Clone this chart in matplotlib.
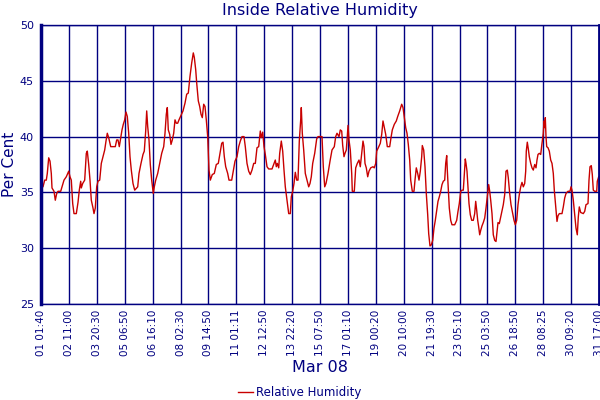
import numpy as np
import matplotlib
matplotlib.use('Agg')
import matplotlib.pyplot as plt

# readings: sample position along the month and relative humidity (%)
sample = [0.3, 2, 3.7, 5.3, 6.3, 7.7, 9, 10.3, 11, 13, 14.3, 15.7, 17, 19.7, 21, 23, 25.3, 27.7, 29, 30.3,
          31.7, 33, 35.3, 37, 38.3, 39.7, 40.3, 41.7, 43.7, 45.3, 46.3, 47.7, 49, 50.3, 52, 53, 54.3, 55.7, 57, 58.7,
          60.3, 62, 63.7, 65, 66.3, 67.7, 69.7, 72, 74.3, 75.7, 77, 78.3, 79.7, 81, 82.3, 83.7, 85, 86.3, 87.7, 89,
          90.3, 92, 93.7,
          96.7, 98, 100, 102, 103.3, 104.7, 105.7, 106.7, 108, 109.3, 110.7, 112.3, 113.3, 114.7, 116.7, 118.7,
          120.7, 122.7, 124, 125.3, 126.3, 127.3, 128.7, 130, 131.3, 132.7, 134, 135.3, 136.7, 138, 140, 142, 144,
          145.7, 147.3, 149, 150.7, 152.3, 153.3, 154.7, 155.7, 157.3, 158.7, 160, 161.3, 162.7, 164, 165.3, 166.7,
          168, 169.3, 171.3, 173.3, 175.3, 177.3, 179, 180.7, 182, 183.3, 184.7, 186.7, 188, 190.7, 192.3, 194,
          196, 197.7, 199.3, 201, 203, 204.3, 206, 207.7, 209.3, 211, 212.7, 214.3, 216, 217.7, 219.3, 220.3,
          221.7, 223, 224.3, 226, 227.7, 231, 232.7, 234.3, 235.3, 236.3, 237.7, 238.7, 240.3, 241.7, 243, 244.3,
          246, 247.7, 249.3, 250.3, 251.7, 253, 254.3, 255.7, 257, 258.3, 259.7, 260.3, 261.3, 262.7, 264.3, 266,
          267.7, 269, 270.3, 271.7, 273.7, 275.7, 277, 279.3, 281, 282.3, 283.7, 285, 287, 289, 291,
          293.3, 294.7, 296, 298, 299.3, 300.7, 301.7, 303, 304, 305.3, 306.3, 307, 308, 309.3, 310.7, 311.3, 313.3,
          314.7, 316.3, 318, 319.3, 320.7, 322, 323, 324, 325.3, 326.7, 328, 329.7, 332, 333.3, 334.7, 335.7, 337.3,
          339.3, 340.7, 342, 343.3, 344.7, 346.3, 348.7, 350, 351.3, 353.3, 355.3, 356.7, 358.7, 360.7, 362, 363.3,
          364.7, 366, 367.3, 368.7, 369.7, 371.3, 373, 374, 375.3, 376.7, 378, 379.3, 380.7, 381.3, 382.7, 384,
          385.3, 386.7, 387.7,
          389, 390.3, 391.7, 393, 394.3, 395.7, 397, 398.3, 399.7, 401, 402.3, 403.7, 404.7, 405.7, 406.3, 407.3,
          408.3, 409.7, 411, 413.7, 415.7, 417, 418.3, 419.7, 421, 422.3, 423.3, 424.3, 425, 426, 427, 428, 429.3,
          430.7, 432.3, 433.7, 434.7, 435.7, 436.7, 437.7, 438.7, 439.7, 441, 442.3, 443.7, 445, 446.3, 447.7,
          448.7, 449.7, 451, 452.3, 453.7, 455, 456, 457, 458.3, 459.7, 461, 462.3, 463.7, 465, 466.3, 467.3,
          468.7, 470, 471.7, 473, 474.3, 475.7, 477, 478.3, 479.7, 481, 482.3, 483.7, 484.7,
          485.3, 486.3, 487.3, 488.3, 489.7, 491, 492.3, 493.7, 495, 496, 497, 498.3, 499.7, 501, 502.3, 503,
          503.7, 504.3, 505, 505.7, 507, 508.3, 509.7, 511, 512.3, 513.3, 514.7, 516, 517, 518.3, 521, 522.3,
          523.7, 525, 527, 529, 530, 531, 532.3, 533.7, 535, 536.3, 537.3, 538.3, 539.7, 542.3, 543.7, 545, 547,
          548, 549, 550.3, 551.3, 552.3, 553.7, 555.7, 556.3, 557.7]

humidity = [35.8, 35.5, 36.1, 36.1, 36.7, 38.1, 37.8, 36.7, 35.4, 35.1, 34.3, 34.9, 35.1, 35.1, 35.5, 36.1, 36.4, 36.9, 36.4, 36.1,
            34.0, 33.1, 33.1, 34.1, 35.2, 36.0, 35.4, 35.8, 36.1, 38.5, 38.7, 37.5, 36.1, 34.3, 33.6, 33.1, 33.6, 35.5, 36.0, 36.1,
            37.6, 38.2, 38.8, 39.6, 40.3, 39.9, 39.1, 39.1, 39.1, 39.7, 39.7, 39.1, 39.9, 40.6, 41.1, 41.5, 42.2, 41.8, 40.3, 38.2,
            37.0, 35.8, 35.2,
            35.5, 36.7, 37.6, 38.4, 38.7, 40.5, 42.3, 40.9, 39.7, 37.5, 36.1, 34.9, 35.5, 36.1, 36.7, 37.6,
            38.5, 39.1, 40.3, 42.0, 42.6, 40.6, 40.2, 39.3, 39.7, 40.3, 41.5, 41.2, 41.2, 41.5, 41.9, 42.3, 43.0,
            43.8, 43.9, 45.4, 46.6, 47.5, 47.1, 46.0, 44.8, 43.2, 42.7, 42.0, 41.7, 42.9, 42.7, 41.5, 40.0,
            37.0, 36.1, 36.6, 36.7, 37.5, 37.6, 38.5, 39.4, 39.5, 38.2, 37.3, 36.7, 36.1, 36.1, 36.9, 37.8,
            38.2, 39.1, 39.6, 40.0, 40.0, 39.1, 37.6, 36.9, 36.6, 37.0, 37.6, 37.6, 39.0, 39.1, 40.5, 39.9,
            40.4, 39.1, 38.4, 37.3, 37.1, 37.1, 37.5, 37.9, 37.3, 37.6, 37.2, 38.5, 39.6, 38.7, 37.0, 35.5,
            34.3, 33.1, 33.1, 34.6, 35.1, 35.8, 36.8, 36.1, 36.1, 39.6, 41.5, 42.6, 40.3, 38.8, 36.7, 36.1,
            35.5, 35.8, 36.4, 37.6, 38.5, 39.8, 40.0, 40.0, 40.0, 37.3, 35.5, 35.8, 36.7, 37.8, 38.8,
            39.1, 40.0, 40.3, 40.0, 40.6, 40.5, 39.2, 38.2, 38.5, 38.8, 40.0, 41.0, 39.7, 38.8, 36.7, 35.1, 35.1,
            37.2, 37.6, 37.9, 37.3, 38.5, 39.6, 39.1, 37.6, 37.2, 36.4, 36.9, 37.2, 37.3, 37.2, 37.6, 38.7, 39.0,
            39.4, 40.2, 41.4, 40.8, 40.2, 39.1, 39.1, 39.9, 40.6, 41.1, 41.4, 41.8, 42.3, 42.9, 42.6, 41.7,
            40.8, 40.3, 39.3, 37.9, 36.1, 35.1, 35.1, 36.1, 37.2, 36.7, 36.1, 36.9, 38.2, 39.2, 38.8, 37.3,
            34.9, 33.0, 31.3,
            30.2, 30.3, 30.7, 31.8, 32.5, 33.4, 34.2, 34.6, 35.1, 35.7, 36.0, 36.1, 37.6, 38.3, 37.0, 35.2,
            33.6, 32.5, 32.1, 32.1, 32.5, 33.3, 34.0, 35.1, 35.2, 35.2, 36.6, 38.0, 37.6, 36.9, 35.5, 34.0, 33.0,
            32.5, 32.5, 33.1, 34.2, 33.4, 32.5, 31.9, 31.2, 31.6, 32.0, 32.3, 32.7, 33.6, 34.6, 35.7,
            35.1, 34.3, 33.1, 31.2, 30.7, 30.6, 31.5, 32.3, 32.2, 32.8, 33.4, 33.9, 34.8, 36.9, 37.0, 36.3,
            34.9, 33.9, 33.1, 32.5, 32.1, 32.5, 33.9, 34.8, 35.5, 35.9, 35.5, 35.8, 36.9,
            38.7, 39.5, 38.9, 38.2, 37.6, 37.2, 37.0, 37.5, 37.2, 37.9, 38.4, 38.5, 38.4, 39.4, 40.3, 41.4,
            40.8, 41.7, 40.0, 39.1, 39.0, 38.7, 37.9, 37.6, 36.7, 35.2, 33.7, 32.4, 32.9, 33.1, 33.1, 33.7,
            34.5, 34.9, 35.1, 35.1, 35.5, 35.2, 34.3, 33.0, 31.8, 31.2, 32.8, 33.7, 33.2, 33.1, 33.3, 33.9, 34.0,
            36.1, 37.3, 37.4, 36.6, 35.2, 35.1, 35.1, 36.0, 36.4]

tick_labels = ['01 01:40', '02 11:00', '03 20:30', '05 06:50', '06 16:10', '08 02:30', '09 14:50',
               '11 01:11', '12 12:50', '13 22:20', '15 07:50', '17 01:10', '19 00:20', '20 10:00',
               '21 19:30', '23 05:10', '25 03:50', '26 18:50', '28 08:25', '30 09:20', '31 17:00']
span = 558

navy = '#000080'

fig = plt.figure(figsize=(6, 4), dpi=100)
ax = fig.add_axes([41/600, 1 - 304/400, 558/600, 279/400])

ax.plot(sample, humidity, color='#c80000', lw=1.0, label='Relative Humidity')

ax.set_xlim(0, span)
ax.set_ylim(25, 50)
ax.set_yticks(np.arange(25, 51, 5))
ax.set_xticks(np.linspace(0, span, len(tick_labels)))
ax.set_xticklabels(tick_labels, rotation=90)
ax.tick_params(length=0, colors=navy, labelsize=7.5, pad=4)
ax.tick_params(axis='y', labelsize=8, pad=5)
ax.grid(True, color=navy, lw=1.0)
ax.set_axisbelow(True)

for side in ['top', 'bottom']:
    ax.spines[side].set_color(navy)
    ax.spines[side].set_linewidth(1.0)
ax.spines['left'].set_color(navy)
ax.spines['left'].set_linewidth(2.5)
ax.spines['right'].set_color(navy)
ax.spines['right'].set_linewidth(2.0)

ax.set_title('Inside Relative Humidity', color=navy, fontsize=11.5, pad=7)
ax.set_ylabel('Per Cent', color=navy, fontsize=11, va='center')
ax.yaxis.set_label_coords(-0.057, 0.5)
ax.set_xlabel('Mar 08', color=navy, fontsize=11.5, labelpad=3)

leg = fig.legend(loc='lower center', bbox_to_anchor=(0.5, -0.025), frameon=False,
                 handlelength=1.2, handletextpad=0.3, fontsize=8.5)
for t in leg.get_texts():
    t.set_color(navy)

fig.savefig('out.png', dpi=100)
